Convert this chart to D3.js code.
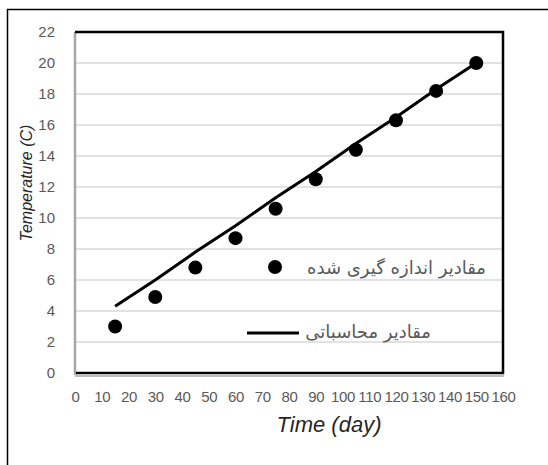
<!DOCTYPE html>
<html>
<head>
<meta charset="utf-8">
<script src="https://cdn.jsdelivr.net/npm/d3@7/dist/d3.min.js"></script>
<style>
  html, body { margin: 0; padding: 0; background: #fff; }
  #chart { width: 548px; height: 465px; }
</style>
</head>
<body>
<div id="chart"></div>
<script>
// measured values
const days = [15, 30, 45, 60, 75, 90, 105, 120, 135, 150];
const measured = [3.0, 4.9, 6.8, 8.7, 10.6, 12.5, 14.4, 16.3, 18.2, 20.0];
// calculated values
const calculated = [4.3, 6.0, 7.8, 9.5, 11.3, 13.0, 14.8, 16.5, 18.3, 20.0];

const xTicks = [0, 10, 20, 30, 40, 50, 60, 70, 80, 90, 100, 110, 120, 130, 140, 150, 160];
const yTicks = [0, 2, 4, 6, 8, 10, 12, 14, 16, 18, 20, 22];

const legendMeasured = "مقادیر اندازه گیری شده";
const legendCalc = "مقادیر محاسباتی";

const width = 548, height = 465;
const plotL = 75, plotR = 503, plotT = 32, plotB = 373;
const labelFont = "'Liberation Sans', 'DejaVu Sans', sans-serif";

const svg = d3.select("#chart").append("svg")
    .attr("width", width)
    .attr("height", height);

svg.append("rect")
    .attr("width", width)
    .attr("height", height)
    .attr("fill", "#fff");

// outer frame (cut off at right / bottom)
svg.append("rect")
    .attr("x", 7.5)
    .attr("y", 9.5)
    .attr("width", 600)
    .attr("height", 600)
    .attr("fill", "none")
    .attr("stroke", "#000")
    .attr("stroke-width", 1.5);

const x = d3.scaleLinear().domain([0, 160]).range([plotL, plotR]);
const y = d3.scaleLinear().domain([0, 22]).range([plotB, plotT]);

// grid lines
svg.append("g")
    .selectAll("line")
    .data(yTicks)
    .join("line")
    .attr("x1", plotL)
    .attr("x2", plotR)
    .attr("y1", d => y(d))
    .attr("y2", d => y(d))
    .attr("stroke", "#d9d9d9")
    .attr("stroke-width", 1.3);

// y axis labels
const yAxis = d3.axisLeft(y).tickValues(yTicks).tickSize(0).tickPadding(0);
const gy = svg.append("g")
    .attr("transform", `translate(${plotL - 20},0)`)
    .call(yAxis);
gy.select(".domain").remove();
gy.selectAll("text")
    .attr("font-family", labelFont)
    .attr("font-size", "15px")
    .attr("fill", "#595959");

// x axis labels
const xAxis = d3.axisBottom(x).tickValues(xTicks).tickSize(0).tickPadding(0);
const gx = svg.append("g")
    .attr("transform", `translate(0,${plotB + 18})`)
    .call(xAxis);
gx.select(".domain").remove();
gx.selectAll("text")
    .attr("font-family", labelFont)
    .attr("font-size", "15px")
    .attr("letter-spacing", "-0.3px")
    .attr("fill", "#595959");

// plot frame
svg.append("line")
    .attr("x1", plotL).attr("x2", plotL)
    .attr("y1", plotT).attr("y2", plotB + 2)
    .attr("stroke", "#a6a6a6")
    .attr("stroke-width", 2.5);
svg.append("line")
    .attr("x1", plotL).attr("x2", plotR + 1)
    .attr("y1", plotB + 3).attr("y2", plotB + 3)
    .attr("stroke", "#a6a6a6")
    .attr("stroke-width", 1.5);
svg.append("path")
    .attr("d", `M${plotL},${plotT}H${plotR}V${plotB}H${plotL + 1}`)
    .attr("fill", "none")
    .attr("stroke", "#000")
    .attr("stroke-width", 2.5);

// calculated line
const line = d3.line()
    .x((d, i) => x(days[i]))
    .y(d => y(d));
svg.append("path")
    .datum(calculated)
    .attr("d", line)
    .attr("fill", "none")
    .attr("stroke", "#000")
    .attr("stroke-width", 3);

// measured points
svg.append("g")
    .selectAll("circle")
    .data(measured)
    .join("circle")
    .attr("cx", (d, i) => x(days[i]))
    .attr("cy", d => y(d))
    .attr("r", 7)
    .attr("fill", "#000");

// legend
svg.append("circle")
    .attr("cx", 275)
    .attr("cy", 267)
    .attr("r", 7)
    .attr("fill", "#000");
svg.append("text")
    .attr("x", 486)
    .attr("y", 274)
    .attr("direction", "rtl")
    .attr("text-anchor", "start")
    .attr("font-family", "'DejaVu Sans', sans-serif")
    .attr("font-size", "18px")
    .attr("fill", "#595959")
    .text(legendMeasured);

svg.append("line")
    .attr("x1", 247).attr("x2", 299)
    .attr("y1", 333).attr("y2", 333)
    .attr("stroke", "#000")
    .attr("stroke-width", 3);
svg.append("text")
    .attr("x", 431)
    .attr("y", 338)
    .attr("direction", "rtl")
    .attr("text-anchor", "start")
    .attr("font-family", "'DejaVu Sans', sans-serif")
    .attr("font-size", "18px")
    .attr("fill", "#595959")
    .text(legendCalc);

// axis titles
svg.append("text")
    .attr("x", 329)
    .attr("y", 432)
    .attr("text-anchor", "middle")
    .attr("font-family", labelFont)
    .attr("font-size", "22px")
    .attr("font-style", "italic")
    .attr("fill", "#262626")
    .text("Time (day)");

svg.append("text")
    .attr("transform", "translate(32,183) rotate(-90)")
    .attr("text-anchor", "middle")
    .attr("font-family", labelFont)
    .attr("font-size", "16px")
    .attr("font-style", "italic")
    .attr("fill", "#262626")
    .text("Temperature (C)");
</script>
</body>
</html>
